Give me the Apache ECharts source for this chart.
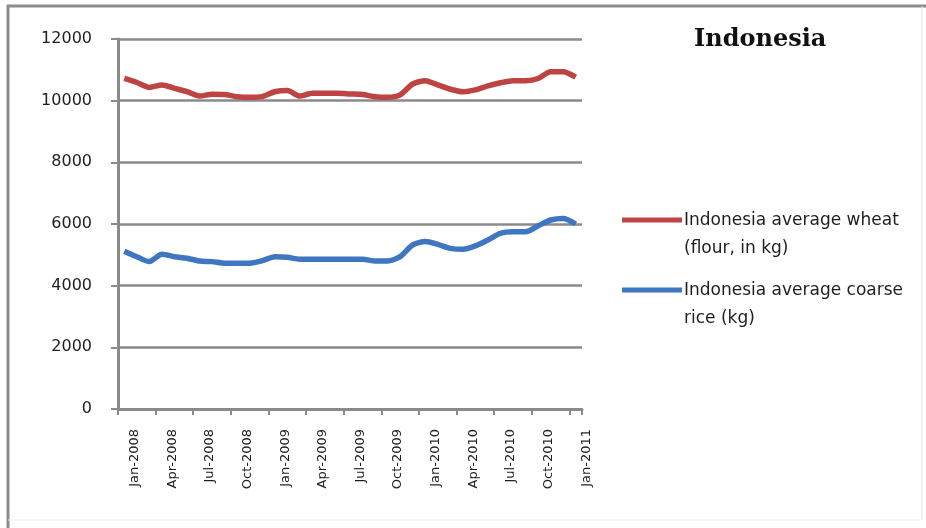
<!DOCTYPE html>
<html>
<head>
<meta charset="utf-8">
<title>Indonesia</title>
<script src="https://cdn.jsdelivr.net/npm/echarts@6/dist/echarts.min.js"></script>
<style>
  html, body { margin: 0; padding: 0; background: #ffffff; }
  #chart { width: 926px; height: 528px; }
</style>
</head>
<body>
<div id="chart"></div>
<script>
// Monthly categories, Jan 2008 – Jan 2011
const months = [
  'Jan-2008','Feb-2008','Mar-2008','Apr-2008','May-2008','Jun-2008','Jul-2008','Aug-2008','Sep-2008','Oct-2008','Nov-2008','Dec-2008',
  'Jan-2009','Feb-2009','Mar-2009','Apr-2009','May-2009','Jun-2009','Jul-2009','Aug-2009','Sep-2009','Oct-2009','Nov-2009','Dec-2009',
  'Jan-2010','Feb-2010','Mar-2010','Apr-2010','May-2010','Jun-2010','Jul-2010','Aug-2010','Sep-2010','Oct-2010','Nov-2010','Dec-2010',
  'Jan-2011'
];

const wheatName = 'Indonesia average wheat (flour, in kg)';
const wheatLegendLines = ['Indonesia average wheat', '(flour, in kg)'];
const wheat = [
  10720, 10590, 10430, 10510, 10400, 10290, 10150, 10210, 10200, 10130, 10110, 10130,
  10290, 10330, 10150, 10240, 10240, 10240, 10220, 10200, 10130, 10110, 10190, 10540,
  10650, 10510, 10370, 10290, 10350, 10480, 10580, 10650, 10650, 10720, 10940, 10940,
  10760
];

const riceName = 'Indonesia average coarse rice (kg)';
const riceLegendLines = ['Indonesia average coarse', 'rice (kg)'];
const rice = [
  5120, 4940, 4780, 5020, 4940, 4890, 4800, 4780, 4730, 4730, 4730, 4810,
  4940, 4920, 4860, 4860, 4860, 4860, 4860, 4860, 4800, 4800, 4940, 5320,
  5430, 5340, 5210, 5180, 5290, 5480, 5700, 5750, 5750, 5940, 6130, 6180,
  6000
];

const yTicks = { min: 0, max: 12000, interval: 2000 };
const chartTitle = 'Indonesia';

const RED = '#BE4444';
const BLUE = '#3F76C2';
const AXIS_GREY = '#8a8a8a';
const TEXT = '#1e1e1e';

const chart = echarts.init(document.getElementById('chart'), null, { renderer: 'canvas' });

// Legend block: sample line plus two-line caption for each series
function legendItem(color, lines, y) {
  return [
    { type: 'line', shape: { x1: 622, y1: y, x2: 682, y2: y },
      style: { stroke: color, lineWidth: 5 }, z: 10 },
    { type: 'text', x: 684, y: y + 1,
      style: { text: lines[0], fill: TEXT, font: '17px "DejaVu Sans"', textVerticalAlign: 'middle' }, z: 10 },
    { type: 'text', x: 684, y: y + 29,
      style: { text: lines[1], fill: TEXT, font: '17px "DejaVu Sans"', textVerticalAlign: 'middle' }, z: 10 }
  ];
}

const option = {
  animation: false,
  backgroundColor: '#ffffff',
  title: {
    text: chartTitle,
    left: 689,
    top: 23,
    textStyle: { fontFamily: '"DejaVu Serif"', fontWeight: 'bold', fontSize: 24, color: '#111' }
  },
  grid: { left: 118, right: 344, top: 39, bottom: 119, containLabel: false },
  xAxis: {
    type: 'category',
    data: months,
    boundaryGap: true,
    axisLine: { lineStyle: { color: AXIS_GREY, width: 3 } },
    axisTick: { show: true, interval: 2, length: 6, lineStyle: { color: AXIS_GREY, width: 2 } },
    axisLabel: {
      interval: 2,
      rotate: 90,
      margin: 20,
      showMinLabel: true,
      showMaxLabel: true,
      hideOverlap: false,
      color: TEXT,
      fontFamily: '"DejaVu Sans"',
      fontSize: 13,
      // top padding on the rich token nudges each vertical label right of its tick
      formatter: (v) => '{t|' + v + '}',
      rich: {
        t: { padding: [21, 0, 0, 0], fontSize: 13, fontFamily: '"DejaVu Sans"', color: TEXT }
      }
    },
    splitLine: { show: false }
  },
  yAxis: {
    type: 'value',
    min: yTicks.min,
    max: yTicks.max,
    interval: yTicks.interval,
    axisLine: { show: true, lineStyle: { color: AXIS_GREY, width: 3 } },
    axisTick: { show: true, length: 7, lineStyle: { color: AXIS_GREY, width: 2 } },
    axisLabel: {
      color: TEXT, fontFamily: '"DejaVu Sans"', fontSize: 16, margin: 26,
      formatter: (v) => String(v)
    },
    splitLine: { show: true, lineStyle: { color: AXIS_GREY, width: 2.5 } }
  },
  series: [
    {
      name: wheatName, type: 'line', data: wheat, smooth: 0.25,
      showSymbol: false, lineStyle: { color: RED, width: 5.5 }, itemStyle: { color: RED }, z: 3
    },
    {
      name: riceName, type: 'line', data: rice, smooth: 0.25,
      showSymbol: false, lineStyle: { color: BLUE, width: 5.5 }, itemStyle: { color: BLUE }, z: 3
    }
  ],
  graphic: [
    // outer frame of the chart area
    { type: 'line', shape: { x1: 8, y1: 5, x2: 8, y2: 528 }, style: { stroke: '#8c8c8c', lineWidth: 3 } },
    { type: 'line', shape: { x1: 7, y1: 6, x2: 926, y2: 6 }, style: { stroke: '#8c8c8c', lineWidth: 3 } },
    { type: 'line', shape: { x1: 922, y1: 6, x2: 922, y2: 520 }, style: { stroke: '#e4e4e4', lineWidth: 1 } },
    { type: 'line', shape: { x1: 8, y1: 520, x2: 922, y2: 520 }, style: { stroke: '#efefef', lineWidth: 1 } },
    ...legendItem(RED, wheatLegendLines, 220),
    ...legendItem(BLUE, riceLegendLines, 290)
  ]
};

chart.setOption(option);
</script>
</body>
</html>
